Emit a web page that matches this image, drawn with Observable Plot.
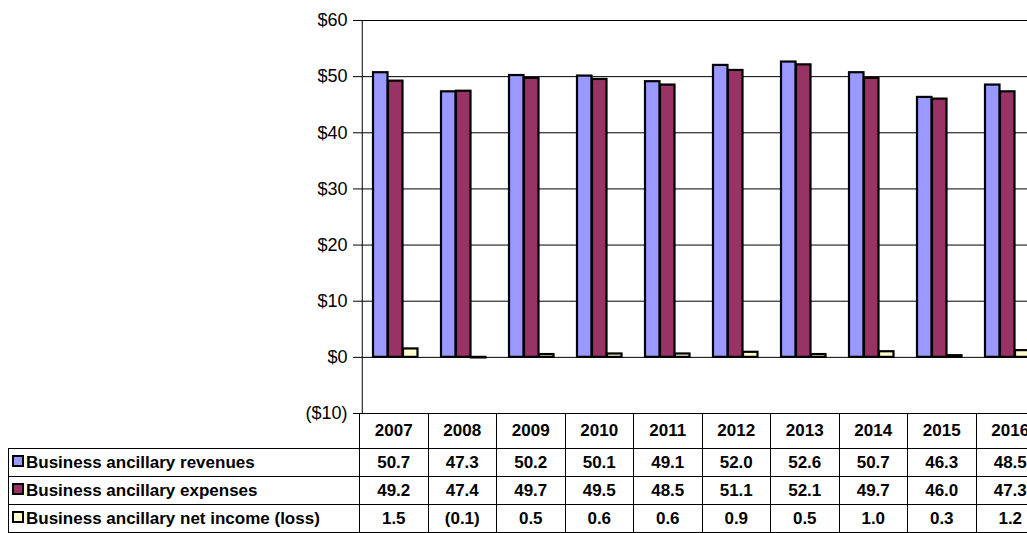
<!DOCTYPE html>
<html><head><meta charset="utf-8">
<script src="https://cdn.jsdelivr.net/npm/d3@7"></script>
<script src="https://cdn.jsdelivr.net/npm/@observablehq/plot@0.6"></script>
<style>
body{margin:0;overflow:hidden;background:#fff;font-family:Arial,"Liberation Sans",sans-serif}
#wrap{position:relative;width:1100px;height:533px}
#wrap svg{position:absolute;left:0;top:0}
#tbl{border-collapse:collapse;position:absolute;left:8px;top:413px;z-index:2;background:transparent;table-layout:fixed}
#tbl td{border:1px solid #000;padding:0;text-align:center;width:67.5px;font-family:"Liberation Sans",Arial,sans-serif;font-weight:700;font-size:17px;color:#000;white-space:nowrap;overflow:hidden}
#tbl td.lab{text-align:left;width:347px;padding-left:3px}
#tbl tr.h td{height:34px}
#tbl tr.h td.lab{border:none}
#tbl tr.r td{height:27px}
.sw{display:inline-block;width:8px;height:8px;border:2px solid #000;margin-right:2px;vertical-align:1px}
</style></head>
<body><div id="wrap"></div>
<script>
const years = ["2007","2008","2009","2010","2011","2012","2013","2014","2015","2016"];
const series = ["Business ancillary revenues","Business ancillary expenses","Business ancillary net income (loss)"];
const revenues = [50.7,47.3,50.2,50.1,49.1,52.0,52.6,50.7,46.3,48.5];
const expenses = [49.2,47.4,49.7,49.5,48.5,51.1,52.1,49.7,46.0,47.3];
const netIncome = [1.5,-0.1,0.5,0.6,0.6,0.9,0.5,1.0,0.3,1.2];
const colors = ["#9999FF","#993366","#FFFFCC"];
const values = [revenues, expenses, netIncome];

const fmt = v => v < 0 ? `(${Math.abs(v).toFixed(1)})` : v.toFixed(1);
const money = v => v < 0 ? `($${Math.abs(v)})` : `$${v}`;

const bars = values.map((vals, i) => Plot.barY(years.map((y, j) => ({year: y, v: vals[j]})), {
  x: "year", y: "v", fill: colors[i], stroke: "#000", strokeWidth: 2.2,
  insetLeft: 11 + 15 * i, insetRight: 68.5 - 26 - 15 * i
}));

const chart = Plot.plot({
  width: 1045, height: 425,
  marginLeft: 359, marginRight: 0, marginTop: 20, marginBottom: 12,
  style: {fontFamily: "Arial, 'Liberation Sans', sans-serif", fontSize: "18px", color: "#000", background: "transparent"},
  x: {domain: years, padding: 0, axis: null},
  y: {domain: [-10, 60], ticks: d3.range(-10, 61, 10), tickFormat: money, tickSize: 6, tickPadding: 6, label: null},
  marks: [
    Plot.ruleY(d3.range(0, 61, 10), {stroke: "#000", strokeWidth: 1}),
    Plot.ruleY([-10], {stroke: "#000"}),
    Plot.ruleX([years[0]], {x: () => years[0], dx: -34.25, stroke: "#000"}),
    ...bars
  ]
});
const wrap = document.getElementById("wrap");
wrap.appendChild(chart);

const tb = d3.select(wrap).append("table").attr("id", "tbl").append("tbody");
const hr = tb.append("tr").attr("class", "h");
hr.append("td").attr("class", "lab");
years.forEach(y => hr.append("td").text(y));
series.forEach((s, i) => {
  const r = tb.append("tr").attr("class", "r");
  const l = r.append("td").attr("class", "lab");
  l.append("span").attr("class", "sw").style("background", colors[i]);
  l.append("span").text(s);
  values[i].forEach(v => r.append("td").text(fmt(v)));
});
</script></body></html>
